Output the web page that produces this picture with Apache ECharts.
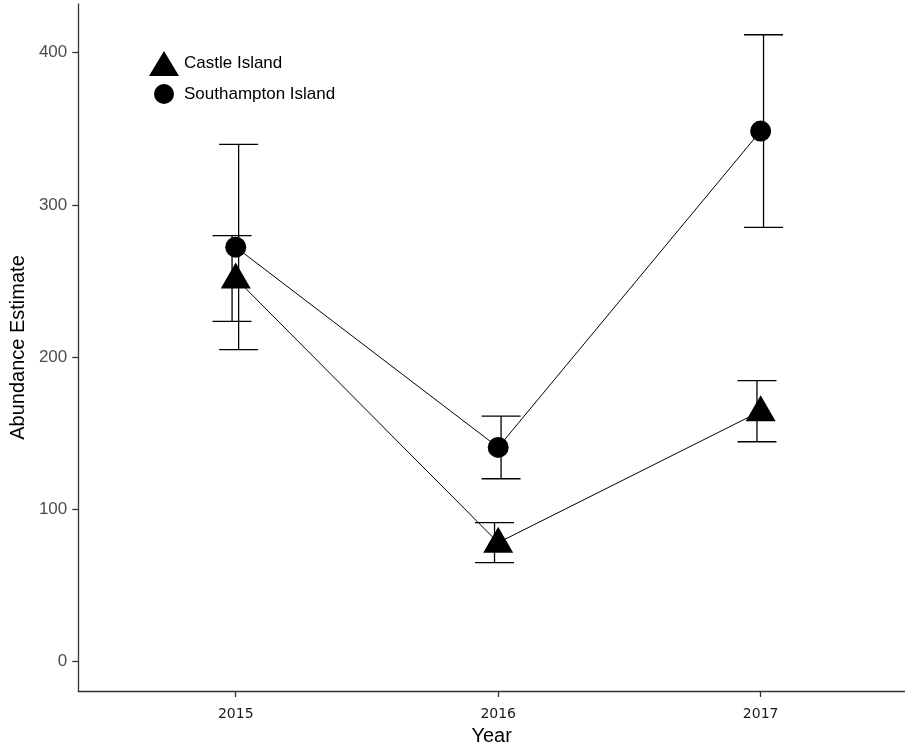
<!DOCTYPE html>
<html>
<head>
<meta charset="utf-8">
<script src="https://cdn.jsdelivr.net/npm/echarts@6/dist/echarts.min.js"></script>
<style>html,body{margin:0;padding:0;background:#fff}#c{width:905px;height:751px}</style>
</head>
<body>
<div id="c"></div>
<script>
const years = ['2015', '2016', '2017'];
const yTicks = [0, 100, 200, 300, 400];
const castleMean = [251.6, 78.0, 164.4];
const castleLow = [223.4, 64.9, 144.3];
const castleHigh = [279.8, 91.1, 184.5];
const southMean = [272.2, 140.6, 348.5];
const southLow = [204.8, 120.0, 285.2];
const southHigh = [339.7, 161.1, 411.8];

const chart = echarts.init(document.getElementById('c'));

function errData(low, high, off) {
  return years.map((y, i) => [i + off, low[i], high[i]]);
}
function errSeries(name, data) {
  return {
    type: 'custom', name: name + ' err', z: 1, silent: true,
    data: data,
    renderItem: function (params, api) {
      const x = api.value(0);
      const lo = api.coord([x, api.value(1)]);
      const hi = api.coord([x, api.value(2)]);
      const hw = 19.5;
      const st = { stroke: '#000', lineWidth: 1.3 };
      return {
        type: 'group', children: [
          { type: 'line', shape: { x1: lo[0], y1: lo[1], x2: hi[0], y2: hi[1] }, style: st },
          { type: 'line', shape: { x1: lo[0] - hw, y1: lo[1], x2: lo[0] + hw, y2: lo[1] }, style: st },
          { type: 'line', shape: { x1: hi[0] - hw, y1: hi[1], x2: hi[0] + hw, y2: hi[1] }, style: st }
        ]
      };
    },
    encode: { x: 0, y: [1, 2] }
  };
}

const legendText = { fontSize: 17, color: '#000', fontFamily: 'Liberation Sans, Arial, sans-serif' };

const option = {
  animation: false,
  backgroundColor: '#fff',
  grid: { left: 74, right: 0, top: 4, bottom: 57, containLabel: false },
  legend: [
    {
      orient: 'vertical', left: 144, top: 46, itemWidth: 30, itemHeight: 25,
      textStyle: legendText,
      data: [{ name: 'Castle Island', icon: 'triangle' }]
    },
    {
      orient: 'vertical', left: 149, top: 79, itemWidth: 30, itemHeight: 20,
      textStyle: legendText,
      data: [{ name: 'Southampton Island', icon: 'circle' }]
    }
  ],
  xAxis: {
    type: 'value', min: -0.6, max: 2.55,
    name: 'Year', nameLocation: 'middle', nameGap: 35,
    nameTextStyle: { fontSize: 20, color: '#000', fontFamily: 'Liberation Sans, Arial, sans-serif' },
    axisLine: { show: true, onZero: false, lineStyle: { color: '#333', width: 1.3 } },
    axisTick: { show: true, customValues: [0, 1, 2], length: 6, lineStyle: { color: '#333', width: 1.3 } },
    axisLabel: { customValues: [0, 1, 2], formatter: v => years[Math.round(v)], fontSize: 14, color: '#1a1a1a', margin: 16, fontFamily: 'DejaVu Sans, sans-serif' },
    splitLine: { show: false }
  },
  yAxis: {
    type: 'value', min: -19.5, max: 432,
    name: 'Abundance Estimate', nameLocation: 'middle', nameGap: 43, nameRotate: 90,
    nameTextStyle: { fontSize: 20, color: '#000', fontFamily: 'Liberation Sans, Arial, sans-serif' },
    axisLine: { show: true, onZero: false, lineStyle: { color: '#333', width: 1.3 } },
    axisTick: { show: true, customValues: yTicks, length: 6, lineStyle: { color: '#333', width: 1.3 } },
    axisLabel: { customValues: yTicks, fontSize: 17, color: '#4d4d4d', margin: 11, fontFamily: 'Liberation Sans, Arial, sans-serif' },
    splitLine: { show: false }
  },
  series: [
    errSeries('Castle Island', errData(castleLow, castleHigh, -0.014)),
    errSeries('Southampton Island', errData(southLow, southHigh, 0.011)),
    {
      name: 'Castle Island', type: 'line', z: 3,
      data: castleMean.map((v, i) => [i, v]),
      symbol: 'triangle', symbolSize: [30, 26], symbolOffset: [0, -3], showSymbol: true,
      lineStyle: { color: '#000', width: 1 },
      itemStyle: { color: '#000' }
    },
    {
      name: 'Southampton Island', type: 'line', z: 3,
      data: southMean.map((v, i) => [i, v]),
      symbol: 'circle', symbolSize: 21, showSymbol: true,
      lineStyle: { color: '#000', width: 1 },
      itemStyle: { color: '#000' }
    }
  ]
};
chart.setOption(option);
</script>
</body>
</html>
